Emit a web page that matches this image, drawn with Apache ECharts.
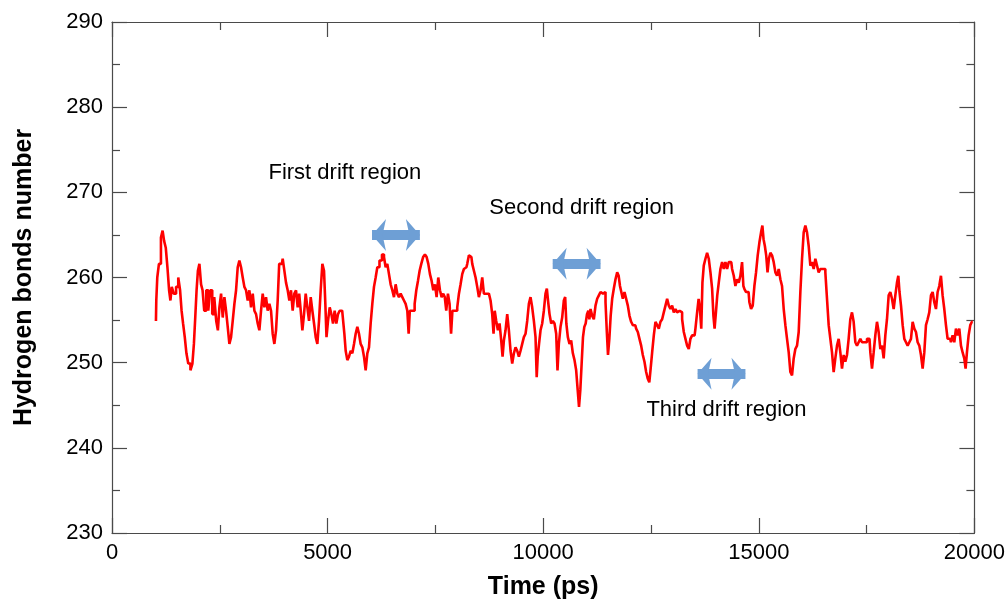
<!DOCTYPE html>
<html>
<head>
<meta charset="utf-8">
<script src="https://cdn.jsdelivr.net/npm/echarts@6/dist/echarts.min.js"></script>
<style>
html,body{margin:0;padding:0;background:#fff;}
#chart{width:1008px;height:605px;}
</style>
</head>
<body>
<div id="chart"></div>
<script>
// ---- data ----
const timePs = [
1019,1035,1065,1112,1158,1189,1228,1266,1305,1343,1367,1405,1459,1513,1560,1598,1629,1668,1707,1745,1792,1846,1884,1915,1946,1977,2008,2046,2085,2116,2162,2209,2255,2301,2348,2394,2440,2471,2510,2549,2587,2626,2664,2703,2742,2780,2819,2858,2896,2935,2973,3012,3051,3089,3128,3167,3205,3244,3283,3321,3360,3398,3437,3476,3514,3553,3591,3630,3669,3707,3746,3785,3823,3862,3893,3939,3978,4016,4055,4094,4132,4171,4209,4248,4287,4325,4357,
4396,4434,4473,4511,4550,4589,4627,4666,4705,4743,4782,4820,4859,4898,4936,4959,4990,5029,5068,5106,5145,5183,5222,5261,5299,5338,5377,5400,5438,5477,5516,5554,5593,5632,5670,5709,5747,5786,5825,5863,5902,5941,5979,6018,6056,6095,6134,6172,6234,6288,6327,6365,6404,6443,6481,6520,6559,6597,6636,6674,6713,6752,6790,6829,6868,6891,6922,6960,6999,7038,7076,7115,7153,7192,7238,7277,7316,7354,7393,7432,7470,7509,7547,7586,7625,7663,7702,
7732,7771,7810,7848,7879,7910,7949,7987,8026,8065,8103,8142,8180,8219,8258,8296,8335,8374,8412,8451,8489,8528,8567,8605,8644,8683,8721,8760,8798,8837,8860,8891,8930,8968,9007,9046,9069,9107,9146,9185,9223,9262,9301,9339,9378,9416,9455,9494,9532,9571,9610,9648,9687,9725,9764,9803,9841,9857,9888,9919,9957,9996,10034,10073,10096,10127,10166,10204,10243,10282,10320,10343,10382,10421,10459,10498,10521,10552,10591,10629,10668,10707,10745,10784,10815,10846,10876,10907,10938,10969,11000,11031,11062,
11078,11117,11155,11194,11232,11271,11310,11348,11387,11426,11464,11487,11518,11549,11580,11619,11657,11696,11735,11765,11796,11827,11866,11904,11943,11982,12020,12059,12098,12136,12175,12213,12252,12291,12329,12368,12407,12445,12476,12507,12546,12584,12623,12662,12700,12739,12777,12816,12855,12893,12932,12971,13009,13048,13086,13125,13164,13202,13241,13280,13318,13357,13395,13434,13473,13511,13550,13589,13619,13650,13681,13704,13743,13782,13820,13859,13898,13936,13959,13990,14021,14052,14091,14129,14168,14207,14245,14284,14322,
14361,14400,14438,14477,14515,14554,14592,14631,14654,14685,14724,14762,14801,14840,14878,14917,14955,14994,15033,15071,15095,15125,15156,15187,15218,15249,15288,15326,15365,15404,15442,15481,15519,15558,15597,15635,15674,15713,15751,15790,15828,15867,15906,15944,15983,16022,16060,16099,16137,16176,16215,16253,16292,16331,16369,16408,16446,16485,16524,16562,16601,16640,16678,16717,16755,16794,16833,16871,16910,16949,16987,17026,17064,17103,17142,17180,17219,17258,17296,17335,17374,17412,17451,17490,17528,17567,17606,17644,17683,17721,17760,
17799,17838,17876,17915,17953,17992,18031,18069,18108,18147,18185,18224,18247,18278,18317,18355,18394,18432,18471,18510,18548,18587,18625,18664,18703,18741,18780,18819,18857,18896,18934,18973,19012,19050,19089,19128,19166,19205,19243,19282,19321,19359,19398,19437,19475,19514,19553,19591,19630,19669,19707,19746,19784,19807,19846,19885,19923,19962
];
const hBonds = [
254.9,257.3,260.0,261.6,264.7,265.5,264.3,263.5,261.2,258.5,257.3,258.9,258.1,258.9,260.0,258.5,256.1,254.6,253.0,251.1,249.9,249.1,249.9,252.2,255.3,258.5,260.8,261.6,259.2,258.5,256.1,258.5,256.1,258.5,255.7,257.7,254.9,253.8,256.5,258.1,255.3,257.7,256.1,254.2,252.2,253.0,254.9,256.9,258.5,261.2,262.0,261.2,260.0,258.9,258.5,257.3,258.5,256.5,258.1,256.1,255.7,254.6,253.8,256.1,258.1,256.5,257.7,256.1,256.9,256.1,253.4,252.2,253.8,257.3,261.6,261.6,262.2,260.8,259.4,258.5,257.3,258.5,256.1,258.1,258.5,256.5,258.1,
256.1,253.8,255.7,258.1,256.5,254.9,257.7,256.1,254.6,253.0,252.2,254.9,258.5,261.6,260.8,256.9,253.0,254.9,256.5,255.7,254.6,256.1,254.6,255.7,256.1,256.1,256.1,253.4,251.4,250.3,250.7,251.4,251.1,252.2,253.4,254.2,253.4,252.2,251.8,250.7,249.1,251.1,251.8,254.6,256.9,258.9,260.0,261.2,262.0,262.7,262.4,261.2,261.6,260.4,259.2,258.5,257.7,259.2,258.1,257.7,258.1,257.7,257.3,256.9,256.1,253.4,256.1,256.1,256.1,256.9,258.5,259.6,260.8,261.6,262.4,262.7,262.4,261.6,260.4,259.6,258.5,259.2,257.7,260.0,258.5,257.7,258.1,
257.7,256.1,258.1,256.9,253.4,256.1,256.1,256.1,256.5,258.1,259.2,260.4,261.0,261.2,261.6,262.6,262.4,261.6,260.8,260.0,258.9,257.7,258.5,260.0,258.1,258.1,258.1,258.1,257.3,255.7,253.4,256.1,254.9,253.8,254.6,252.6,250.7,252.6,253.8,255.7,253.8,251.4,249.9,251.1,251.8,251.4,250.7,251.4,252.2,253.0,253.4,254.9,256.9,257.7,256.5,254.9,253.0,248.3,250.7,252.2,253.8,254.6,256.1,258.1,258.7,257.3,255.7,254.6,254.9,254.6,253.4,249.1,252.2,254.2,255.3,257.3,257.7,254.6,253.0,252.2,252.6,251.1,250.3,249.1,246.8,244.8,246.8,249.9,253.0,254.2,254.6,255.7,256.1,
255.1,256.3,255.5,255.1,256.7,257.5,257.9,258.3,258.1,258.3,257.1,253.6,250.9,252.8,255.5,257.5,258.7,259.8,260.6,260.2,259.0,258.3,257.5,258.3,257.5,256.7,255.5,254.8,254.4,254.4,254.0,253.6,252.8,252.0,250.9,250.1,248.9,248.1,247.7,249.3,251.2,253.2,254.8,254.4,254.0,254.8,255.1,255.9,256.7,257.5,256.7,256.3,256.7,255.9,256.3,255.9,256.1,255.9,255.1,253.6,252.8,252.0,251.6,252.8,253.2,253.2,254.0,255.9,257.5,256.3,254.0,259.4,261.4,262.2,262.9,262.2,260.6,258.7,255.5,254.0,255.9,257.9,259.4,261.0,261.8,261.0,261.8,261.0,261.8,
261.8,261.0,260.2,259.0,259.8,259.4,260.2,261.8,259.0,258.6,258.3,258.3,257.1,256.3,256.7,259.0,260.6,262.6,264.1,265.3,266.1,264.5,263.7,262.6,260.6,262.2,262.9,262.6,261.8,260.6,260.2,261.0,259.8,259.0,256.3,254.4,252.8,251.2,248.9,248.5,250.5,251.6,252.0,253.6,258.3,262.2,265.3,266.1,265.3,263.7,261.4,261.8,261.0,262.2,261.4,260.6,261.0,261.0,261.0,260.6,257.5,254.4,252.8,251.2,248.9,250.5,252.0,252.8,251.2,249.3,250.9,250.1,250.9,252.8,255.1,255.9,254.8,252.4,252.0,252.4,252.8,252.4,252.4,252.4,252.8,252.8,251.2,249.3,251.2,253.2,254.8,
253.6,251.6,252.0,250.5,253.2,255.1,257.9,258.3,257.5,256.3,257.9,259.4,260.2,258.3,256.7,254.4,252.8,252.4,252.0,252.4,252.8,254.8,254.0,253.6,252.4,252.0,250.9,249.3,251.2,254.4,255.1,255.9,257.9,258.3,257.1,256.3,258.3,259.0,260.2,257.9,256.3,254.4,252.8,252.8,252.4,253.2,252.4,254.0,253.2,254.0,252.0,251.2,250.5,249.3,251.2,253.2,254.4,254.8
];
const xTicks = [0, 5000, 10000, 15000, 20000];
const yTicks = [230, 240, 250, 260, 270, 280, 290];
const regionLabels = ['First drift region', 'Second drift region', 'Third drift region'];
const labelTime = [5400, 10890, 14250];
const labelValue = [272.3, 268.2, 244.5];
const arrowStart = [6030, 10220, 13580];
const arrowEnd = [7140, 11330, 14690];
const arrowValue = [265.0, 261.6, 248.7];

// ---- chart ----
const FONT = "'Liberation Sans', Arial, sans-serif";
const AX = '#4a4a4a';
const seriesData = timePs.map((t, i) => [t, hBonds[i]]);

const chart = echarts.init(document.getElementById('chart'), null, {renderer: 'canvas'});
const frameAxis = (extra) => Object.assign({
  axisLine: {show: true, onZero: false, lineStyle: {color: AX, width: 1.2}},
  axisTick: {show: true, inside: true, length: 15, lineStyle: {color: AX, width: 1.2}},
  minorTick: {show: true, splitNumber: 2, length: 8, lineStyle: {color: AX, width: 1.2}},
  splitLine: {show: false}
}, extra);

chart.setOption({
  animation: false,
  backgroundColor: '#fff',
  grid: {left: 112, right: 33, top: 22, bottom: 70, containLabel: false},
  xAxis: [
    frameAxis({
      type: 'value', position: 'bottom',
      min: xTicks[0], max: xTicks[xTicks.length - 1], interval: 5000,
      axisLabel: {show: true, color: '#000', fontSize: 22, fontFamily: FONT, margin: 9,
        formatter: (v) => String(v)},
      name: 'Time (ps)', nameLocation: 'middle', nameGap: 42,
      nameTextStyle: {color: '#000', fontSize: 25, fontWeight: 'bold', fontFamily: FONT}
    }),
    frameAxis({
      type: 'value', position: 'top',
      min: xTicks[0], max: xTicks[xTicks.length - 1], interval: 5000,
      axisLabel: {show: false}
    })
  ],
  yAxis: [
    frameAxis({
      type: 'value', position: 'left',
      min: yTicks[0], max: yTicks[yTicks.length - 1], interval: 10,
      axisLabel: {show: true, color: '#000', fontSize: 22, fontFamily: FONT, margin: 9,
        formatter: (v) => String(v)},
      name: 'Hydrogen bonds number', nameLocation: 'middle', nameGap: 75, nameRotate: 90,
      nameTextStyle: {color: '#000', fontSize: 25, fontWeight: 'bold', fontFamily: FONT}
    }),
    frameAxis({
      type: 'value', position: 'right',
      min: yTicks[0], max: yTicks[yTicks.length - 1], interval: 10,
      axisLabel: {show: false}
    })
  ],
  series: [
    {
      type: 'line',
      xAxisIndex: 0, yAxisIndex: 0,
      data: seriesData,
      step: 'middle',
      showSymbol: false,
      symbol: 'none',
      lineStyle: {color: '#ff0000', width: 2.6},
      silent: true,
      z: 3,
      markLine: {
        silent: true,
        symbol: ['arrow', 'arrow'],
        symbolSize: [24, 14],
        label: {show: false},
        lineStyle: {color: '#6e9fd5', width: 10, type: 'solid', opacity: 1},
        emphasis: {disabled: true},
        data: arrowStart.map((s, i) => [
          {coord: [s, arrowValue[i]]},
          {coord: [arrowEnd[i], arrowValue[i]]}
        ])
      }
    },
    {
      type: 'scatter',
      xAxisIndex: 0, yAxisIndex: 0,
      symbolSize: 0,
      silent: true,
      data: regionLabels.map((name, i) => ({name: name, value: [labelTime[i], labelValue[i]]})),
      label: {
        show: true, position: 'inside',
        formatter: (p) => p.name,
        color: '#000', fontSize: 22, fontFamily: FONT, opacity: 1
      },
      z: 5
    }
  ]
});
</script>
</body>
</html>
